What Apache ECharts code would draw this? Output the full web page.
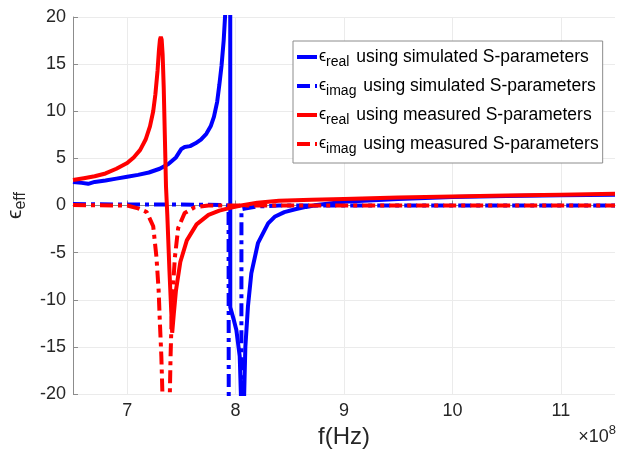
<!DOCTYPE html>
<html>
<head>
<meta charset="utf-8">
<script src="https://cdn.jsdelivr.net/npm/echarts@6/dist/echarts.min.js"></script>
<style>
  html, body { margin: 0; padding: 0; background: #fff; }
  #chart { width: 628px; height: 451px; }
</style>
</head>
<body>
<div id="chart"></div>
<script>
// frequency in units of 1e8 Hz
var xTicks = [7, 8, 9, 10, 11];
var yTicks = [-20, -15, -10, -5, 0, 5, 10, 15, 20];

// eps_real, simulated S-parameters
var simRealF = [6.50, 6.58, 6.64, 6.70, 6.80, 6.90, 7.00, 7.10, 7.20, 7.30, 7.38, 7.45, 7.50, 7.53, 7.58, 7.63, 7.68, 7.73, 7.77, 7.80, 7.83, 7.85, 7.87, 7.89, 7.905, 7.93, 7.95,
  7.951, 7.98, 8.007, 8.038, 8.05, 8.065, 8.077, 8.09, 8.114, 8.145, 8.206, 8.30, 8.36, 8.45, 8.55, 8.65, 8.75, 9.0, 9.5, 10.0, 10.5, 11.0, 11.5];
var simReal = [2.5, 2.4, 2.3, 2.5, 2.65, 2.85, 3.05, 3.25, 3.5, 3.9, 4.4, 5.1, 6.0, 6.2, 6.3, 6.6, 7.0, 7.6, 8.4, 9.4, 11.0, 12.8, 14.8, 17.5, 20.5, 40, 60,
  -10.8, -12.0, -13.2, -16.0, -20.5, -40, -21, -15, -10.7, -7.2, -4.0, -1.9, -1.2, -0.7, -0.4, -0.15, 0.05, 0.4, 0.7, 0.9, 1.0, 1.1, 1.15];

// eps_imag, simulated S-parameters
var simImagF = [6.50, 7.00, 7.50, 7.90, 7.935, 7.94, 8.052, 8.054, 8.10, 8.20, 8.40, 11.5];
var simImag = [0.15, 0.1, 0.1, 0.05, 0, -60, -60, -0.4, -0.3, -0.1, 0, 0];

// eps_real, measured S-parameters
var measRealF = [6.5, 6.6, 6.7, 6.8, 6.9, 7.0, 7.06, 7.12, 7.17, 7.21, 7.24, 7.26, 7.28, 7.293, 7.302, 7.31, 7.318, 7.327, 7.337, 7.347, 7.358, 7.37, 7.39, 7.415,
  7.43, 7.45, 7.49, 7.55, 7.64, 7.75, 7.85, 7.95, 8.05, 8.2, 8.4, 8.7, 9.0, 9.5, 10.0, 10.5, 11.0, 11.5];
var measReal = [2.7, 2.9, 3.1, 3.4, 3.9, 4.5, 5.1, 5.9, 7.0, 8.4, 10.0, 11.8, 14.3, 16.5, 17.6, 17.9, 17.6, 16.0, 12.5, 7.5, 2.0, -1.0, -7.0, -13.5,
  -11.5, -9.0, -6.0, -3.7, -2.0, -1.0, -0.55, -0.25, 0.0, 0.3, 0.5, 0.6, 0.7, 0.85, 0.95, 1.05, 1.15, 1.25];

// eps_imag, measured S-parameters
var measImagF = [6.5, 7.0, 7.1, 7.18, 7.24, 7.27, 7.29, 7.30, 7.315, 7.33, 7.35, 7.37, 7.39, 7.40, 7.415, 7.44, 7.47, 7.53, 7.62, 7.75, 11.5];
var measImag = [0.05, 0, -0.3, -0.7, -2.2, -5.5, -9.0, -12.0, -16.0, -22, -50, -50, -22, -16, -10, -5.5, -2.4, -0.8, -0.2, 0, 0];

var legendText = {
  simReal: '{e|ϵ}{s|real}{t| using simulated S-parameters}',
  simImag: '{e|ϵ}{s|imag}{t| using simulated S-parameters}',
  measReal: '{e|ϵ}{s|real}{t| using measured S-parameters}',
  measImag: '{e|ϵ}{s|imag}{t| using measured S-parameters}'
};

function pairs(xs, ys) {
  var out = [];
  for (var i = 0; i < xs.length; i++) out.push([xs[i], ys[i]]);
  return out;
}

var font = '"Liberation Sans", Arial, Helvetica, sans-serif';
var dashDot = [13, 5, 4, 5];

function line(name, color, data, dashed) {
  return {
    name: name,
    type: 'line',
    data: data,
    symbol: 'none',
    showSymbol: false,
    clip: true,
    animation: false,
    lineStyle: { color: color, width: 4, type: dashed ? dashDot : 'solid', cap: 'butt' },
    itemStyle: { color: color }
  };
}

var myChart = echarts.init(document.getElementById('chart'));

var option = {
  animation: false,
  backgroundColor: '#fff',
  grid: { left: 73, right: 13, top: 17, bottom: 57, outerBoundsMode: 'none', containLabel: false },
  xAxis: {
    type: 'value',
    min: 6.5,
    max: 11.5,
    name: 'f(Hz)',
    nameLocation: 'middle',
    nameGap: 28,
    nameTextStyle: { fontFamily: font, fontSize: 24, color: '#262626' },
    axisLine: { lineStyle: { color: '#8c8c8c', width: 1 } },
    axisTick: { inside: true, length: 5, lineStyle: { color: '#8c8c8c' }, customValues: xTicks },
    axisLabel: { customValues: xTicks, fontFamily: font, fontSize: 18, color: '#262626', margin: 8 },
    splitLine: { show: true, lineStyle: { color: '#ebebeb', width: 1 } }
  },
  yAxis: {
    type: 'value',
    min: -20,
    max: 20,
    interval: 5,
    name: '{e|ϵ}{s|eff}',
    nameLocation: 'middle',
    nameRotate: 90,
    nameGap: 35,
    nameTextStyle: {
      color: '#262626',
      rich: {
        e: { fontFamily: font, fontSize: 21, color: '#262626' },
        s: { fontFamily: font, fontSize: 16, color: '#262626', padding: [12, 0, 0, 0] }
      }
    },
    axisLine: { show: true, lineStyle: { color: '#8c8c8c', width: 1 } },
    axisTick: { show: true, inside: true, length: 5, lineStyle: { color: '#8c8c8c' } },
    axisLabel: { fontFamily: font, fontSize: 18, color: '#262626', margin: 7 },
    splitLine: { show: true, lineStyle: { color: '#ebebeb', width: 1 } }
  },
  legend: {
    orient: 'vertical',
    left: 293,
    top: 41,
    backgroundColor: '#fff',
    borderColor: '#8c8c8c',
    borderWidth: 1,
    padding: [4, 4, 7, 2],
    itemGap: 5,
    itemWidth: 20,
    itemHeight: 12,
    itemStyle: { opacity: 0, borderWidth: 0 },
    lineStyle: { width: 4 },
    data: ['simReal', 'simImag', 'measReal', 'measImag'],
    formatter: function (name) { return legendText[name]; },
    textStyle: {
      color: '#000',
      padding: [0, 0, 0, -3],
      rich: {
        e: { fontFamily: font, fontSize: 16, color: '#000', lineHeight: 20 },
        s: { fontFamily: font, fontSize: 14, color: '#000', padding: [10, 2, 0, 0], lineHeight: 20 },
        t: { fontFamily: font, fontSize: 17.5, color: '#000', lineHeight: 20 }
      }
    }
  },
  graphic: [{
    type: 'text',
    right: 12,
    top: 424,
    style: {
      text: '{a|×10}{b|8}',
      rich: {
        a: { fontFamily: font, fontSize: 18, fill: '#262626', padding: [6, 0, 0, 0] },
        b: { fontFamily: font, fontSize: 13, fill: '#262626', padding: [0, 0, 8, 0] }
      }
    }
  }],
  series: [
    line('simReal', '#0000ff', pairs(simRealF, simReal), false),
    line('simImag', '#0000ff', pairs(simImagF, simImag), true),
    line('measReal', '#ff0000', pairs(measRealF, measReal), false),
    line('measImag', '#ff0000', pairs(measImagF, measImag), true)
  ]
};

myChart.setOption(option);
</script>
</body>
</html>
